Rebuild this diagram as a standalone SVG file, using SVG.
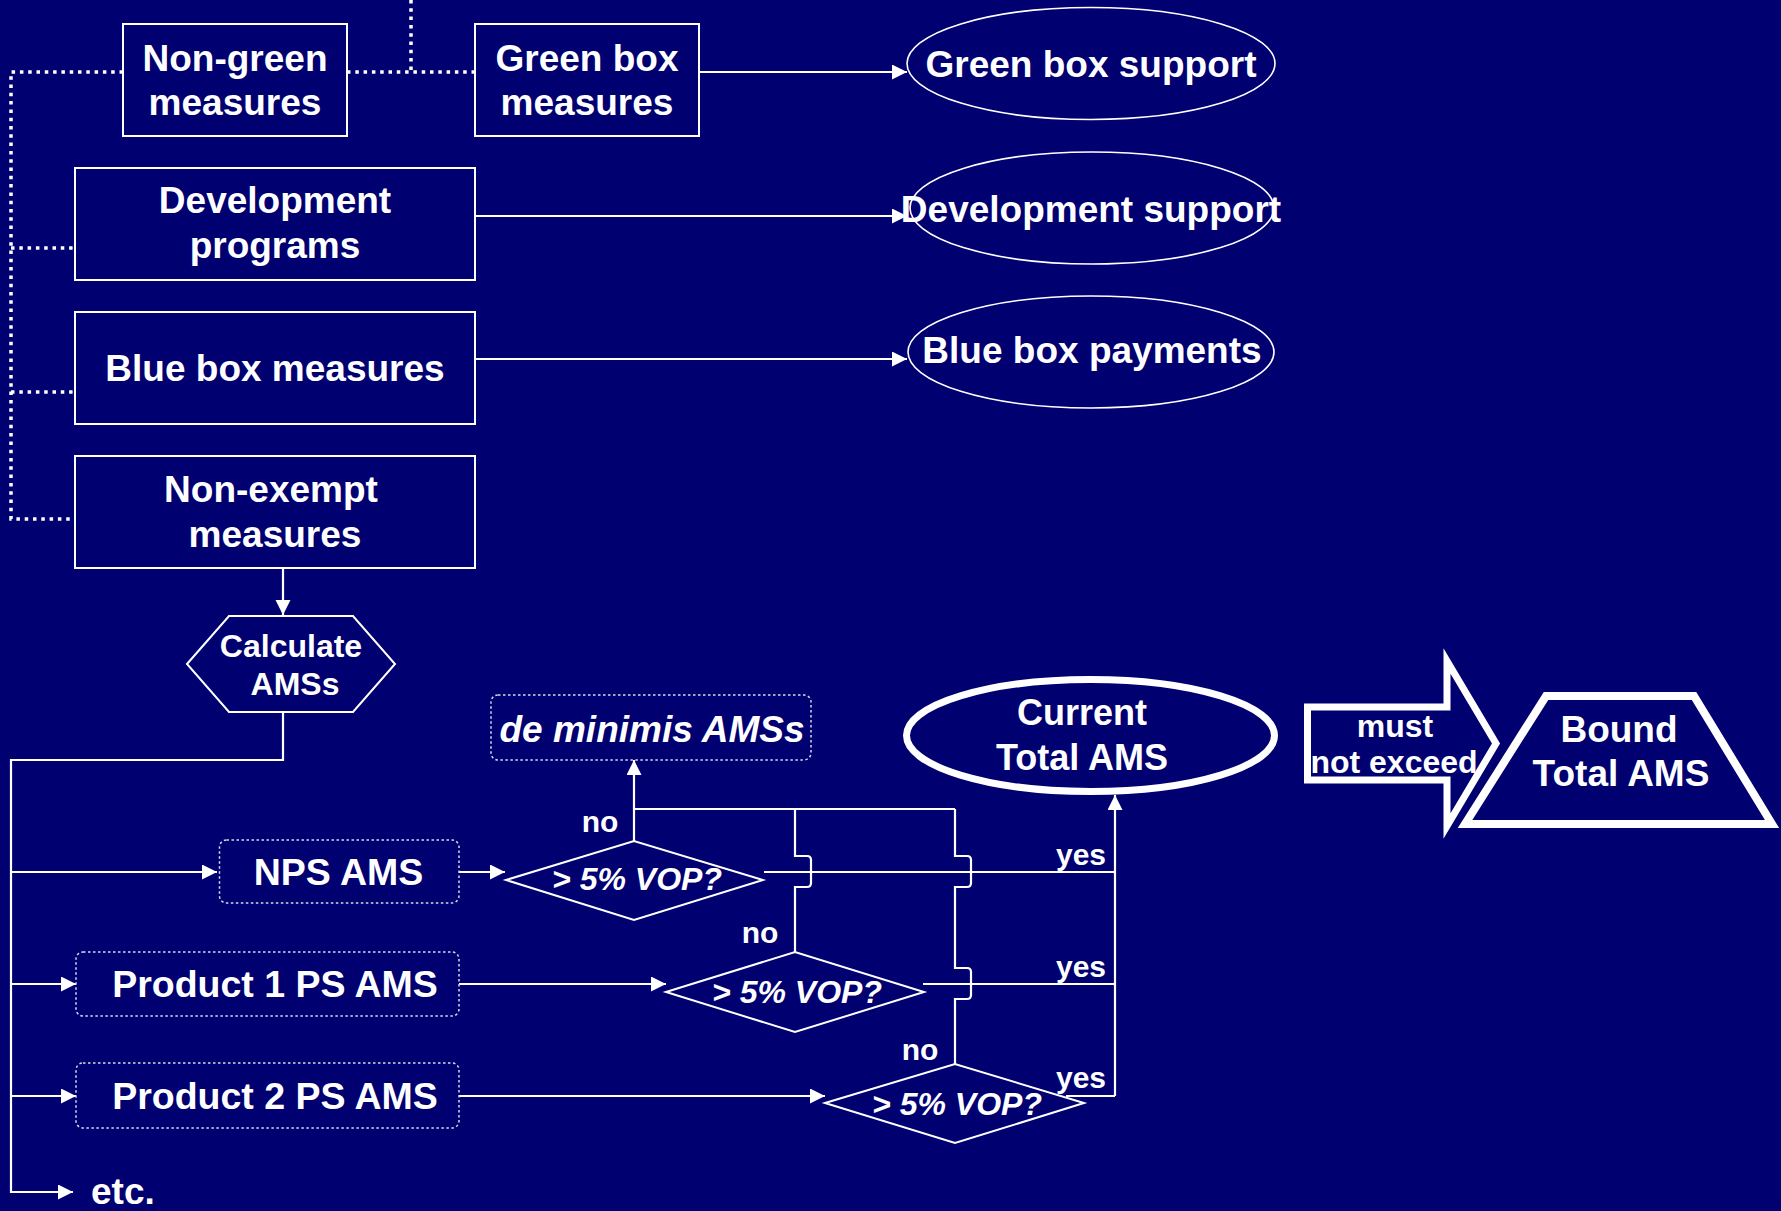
<svg xmlns="http://www.w3.org/2000/svg" width="1781" height="1211" viewBox="0 0 1781 1211">
<defs>
<style>
.t{font-family:"Liberation Sans",Arial,sans-serif;font-weight:bold;fill:#fff;text-anchor:middle}
.b{fill:none;stroke:#fff;stroke-width:2}
.th{fill:none;stroke:#fff;stroke-width:1.6}
.dot{fill:none;stroke:#fff;stroke-width:3.5;stroke-dasharray:3.5 4.8}
.db{fill:none;stroke:#d8d8e8;stroke-width:1.5;stroke-dasharray:2.5 2.5}
.ln{fill:none;stroke:#fff;stroke-width:2.2}
.ar{marker-end:url(#ah)}
</style>
<marker id="ah" markerUnits="userSpaceOnUse" markerWidth="16" markerHeight="16" refX="15" refY="7.5" orient="auto"><path d="M0,0 L15,7.5 L0,15 z" fill="#fff"/></marker>
</defs>
<rect x="0" y="0" width="1781" height="1211" fill="#000070"/>

<g id="connectors">
<path class="dot" d="M411,0 V72 M347,72 H475 M123,72 H11 V519 H75 M11,248 H75 M11,392 H75"/>
<path class="ln ar" d="M699,72 H907"/>
<path class="ln ar" d="M475,216 H907"/>
<path class="ln ar" d="M475,359 H907"/>
<path class="ln ar" d="M283,568 V615"/>
<path class="ln ar" d="M283,712 V760 H11 V1192 H73"/>
<path class="ln ar" d="M11,872 H217"/>
<path class="ln ar" d="M11,984 H76"/>
<path class="ln ar" d="M11,1096 H76"/>
<path class="ln ar" d="M459,872 H505"/>
<path class="ln ar" d="M459,984 H666"/>
<path class="ln ar" d="M459,1096 H825"/>
<path class="ln ar" d="M634,841 V760"/>
<path class="ln" d="M634,809 H955"/>
<path class="ln" d="M795,809 V856 H807 Q811,856 811,860 V883 Q811,887 807,887 H795 V952"/>
<path class="ln" d="M955,809 V856 H967 Q971,856 971,860 V883 Q971,887 967,887 H955 V968 H967 Q971,968 971,972 V995 Q971,999 967,999 H955 V1064"/>
<path class="ln" d="M764,872 H1115 M923,984 H1115 M1066,1096 H1115"/>
<path class="ln ar" d="M1115,1096 V795"/>
</g>

<g id="non-green">
<rect class="b" x="123" y="24" width="224" height="112"/>
<text class="t" font-size="37"><tspan x="235" y="71">Non-green</tspan><tspan x="235" y="115">measures</tspan></text>
</g>
<g id="green-box">
<rect class="b" x="475" y="24" width="224" height="112"/>
<text class="t" font-size="37"><tspan x="587" y="71">Green box</tspan><tspan x="587" y="115">measures</tspan></text>
</g>
<g id="development">
<rect class="b" x="75" y="168" width="400" height="112"/>
<text class="t" font-size="37"><tspan x="275" y="213">Development</tspan><tspan x="275" y="258">programs</tspan></text>
</g>
<g id="blue-box">
<rect class="b" x="75" y="312" width="400" height="112"/>
<text class="t" font-size="37" x="275" y="381">Blue box measures</text>
</g>
<g id="non-exempt">
<rect class="b" x="75" y="456" width="400" height="112"/>
<text class="t" font-size="37"><tspan x="271" y="502">Non-exempt</tspan><tspan x="275" y="547">measures</tspan></text>
</g>

<g id="green-support">
<ellipse class="th" cx="1091" cy="63.5" rx="184" ry="56"/>
<text class="t" font-size="37" x="1091" y="77">Green box support</text>
</g>
<g id="dev-support">
<ellipse class="th" cx="1092" cy="208" rx="182" ry="56"/>
<text class="t" font-size="37" x="1091" y="222">Development support</text>
</g>
<g id="blue-payments">
<ellipse class="th" cx="1091" cy="352" rx="183" ry="56"/>
<text class="t" font-size="37" x="1092" y="363">Blue box payments</text>
</g>

<g id="calculate">
<polygon class="b" points="187,664 229,616 353,616 395,664 353,712 229,712"/>
<text class="t" font-size="32"><tspan x="291" y="657">Calculate</tspan><tspan x="295" y="695">AMSs</tspan></text>
</g>

<g id="de-minimis">
<rect class="db" x="491" y="695" width="320" height="65" rx="7"/>
<text class="t" font-size="37" font-style="italic" x="652" y="742">de minimis AMSs</text>
</g>

<g id="nps">
<rect class="db" x="219.5" y="840" width="239.5" height="63" rx="7"/>
<text class="t" font-size="37.5" x="338.5" y="885">NPS AMS</text>
</g>
<g id="product1">
<rect class="db" x="76" y="952" width="383" height="64" rx="7"/>
<text class="t" font-size="37.5" x="275" y="997">Product 1 PS AMS</text>
</g>
<g id="product2">
<rect class="db" x="76" y="1063" width="383" height="65" rx="7"/>
<text class="t" font-size="37.5" x="275" y="1109">Product 2 PS AMS</text>
</g>
<g id="etc">
<text class="t" font-size="37" x="91" y="1204" style="text-anchor:start">etc.</text>
</g>

<g id="diamond1">
<polygon class="b" points="506,880 634,841 763,880 634,920"/>
<text class="t" font-size="32" font-style="italic" x="637" y="890">&gt; 5% VOP?</text>
</g>
<g id="diamond2">
<polygon class="b" points="666,992 795,952 924,992 795,1032"/>
<text class="t" font-size="32" font-style="italic" x="797" y="1003">&gt; 5% VOP?</text>
</g>
<g id="diamond3">
<polygon class="b" points="825,1103 955,1064 1084,1103 955,1143"/>
<text class="t" font-size="32" font-style="italic" x="957" y="1115">&gt; 5% VOP?</text>
</g>

<g id="labels">
<text class="t" font-size="30" x="600" y="832">no</text>
<text class="t" font-size="30" x="760" y="943">no</text>
<text class="t" font-size="30" x="920" y="1060">no</text>
<text class="t" font-size="30" x="1081" y="865">yes</text>
<text class="t" font-size="30" x="1081" y="977">yes</text>
<text class="t" font-size="30" x="1081" y="1088">yes</text>
</g>

<g id="current-total">
<ellipse fill="none" stroke="#fff" stroke-width="7" cx="1090.5" cy="735.5" rx="184" ry="56"/>
<text class="t" font-size="36"><tspan x="1082" y="725">Current</tspan><tspan x="1082" y="770">Total AMS</tspan></text>
</g>

<g id="must-not-exceed">
<polygon fill="none" stroke="#fff" stroke-width="7" points="1307.5,707 1447,707 1447,661 1496,743.5 1447,826 1447,780 1307.5,780"/>
<text class="t" font-size="32"><tspan x="1395" y="737">must</tspan><tspan x="1394" y="773">not exceed</tspan></text>
</g>

<g id="bound-total">
<polygon fill="none" stroke="#fff" stroke-width="8" points="1546,696 1694,696 1772,824 1465,824"/>
<text class="t" font-size="37"><tspan x="1619" y="742">Bound</tspan><tspan x="1621" y="786">Total AMS</tspan></text>
</g>
</svg>
